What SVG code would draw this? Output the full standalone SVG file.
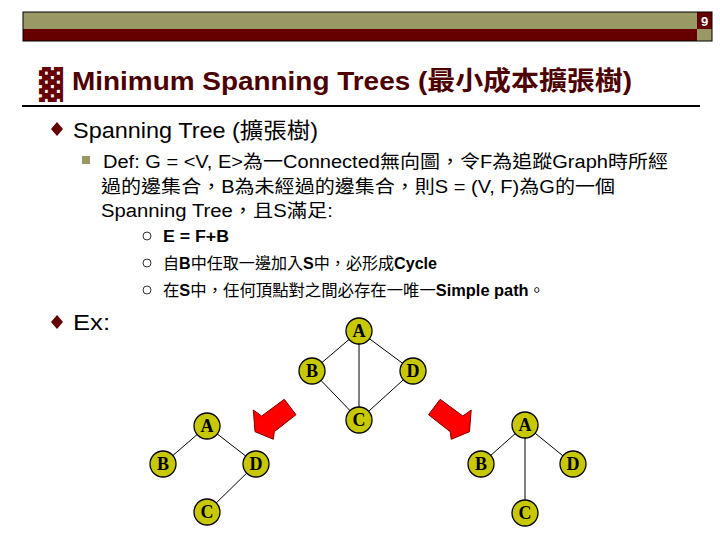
<svg xmlns="http://www.w3.org/2000/svg" width="720" height="540" viewBox="0 0 720 540">
<style>
.t{font-family:"Liberation Sans","Noto Sans CJK TC",sans-serif;fill:#000}
.b{font-weight:bold}
.n circle{fill:#c8c800;stroke:#000;stroke-width:1.3}
.n text{font-family:"Liberation Serif",serif;font-weight:bold;font-size:18px;text-anchor:middle;fill:#000}
.e line{stroke:#000;stroke-width:1}
.arr{fill:#ff0000;stroke:#800000;stroke-width:1}
</style>
<rect x="0" y="0" width="720" height="540" fill="#fff"/>
<g id="header">
<rect x="23" y="12" width="674" height="17" fill="#999966"/>
<rect x="23" y="29" width="674" height="12" fill="#660000"/>
<rect x="697" y="12" width="15" height="17" fill="#660000"/>
<rect x="697" y="29" width="15" height="12" fill="#999966"/>
<rect x="23" y="12" width="689" height="29" fill="none" stroke="#000" stroke-width="1"/>
<text x="704.5" y="26" font-family="Liberation Sans,sans-serif" font-weight="bold" font-size="13" fill="#fff" text-anchor="middle">9</text>
</g>
<g id="title">
<text x="39" y="95" font-family="DejaVu Sans,sans-serif" font-size="30" fill="#660000" textLength="24" lengthAdjust="spacingAndGlyphs">▓</text>
<text x="72" y="90" font-family="Liberation Sans,'Noto Sans CJK TC',sans-serif" font-weight="bold" font-size="26" fill="#4d0000" textLength="560" lengthAdjust="spacingAndGlyphs">Minimum Spanning Trees (最小成本擴張樹)</text>
<line x1="22" y1="106" x2="700" y2="106" stroke="#000" stroke-width="2"/>
</g>
<g id="bullets">
<path d="M57,122 L63,129 L57,136 L51,129 Z" fill="#660000"/>
<text class="t" x="73" y="138" font-size="22" textLength="245" lengthAdjust="spacingAndGlyphs">Spanning Tree (擴張樹)</text>
<rect x="82" y="156" width="8" height="8" fill="#999966"/>
<text class="t" x="103" y="168" font-size="18" textLength="565" lengthAdjust="spacingAndGlyphs">Def: G = &lt;V, E&gt;為一Connected無向圖，令F為追蹤Graph時所經</text>
<text class="t" x="101" y="193" font-size="18" textLength="514" lengthAdjust="spacingAndGlyphs">過的邊集合，B為未經過的邊集合，則S = (V, F)為G的一個</text>
<text class="t" x="101" y="217" font-size="18" textLength="232" lengthAdjust="spacingAndGlyphs">Spanning Tree，且S滿足:</text>
<circle cx="147" cy="236" r="4" fill="none" stroke="#333" stroke-width="1"/>
<text class="t b" x="163" y="242" font-size="16" textLength="66" lengthAdjust="spacingAndGlyphs">E =  F+B</text>
<circle cx="147" cy="263" r="4" fill="none" stroke="#333" stroke-width="1"/>
<text class="t" x="163" y="269" font-size="16" textLength="274" lengthAdjust="spacingAndGlyphs">自<tspan class="b">B</tspan>中任取一邊加入<tspan class="b">S</tspan>中，必形成<tspan class="b">Cycle</tspan></text>
<circle cx="147" cy="290" r="4" fill="none" stroke="#333" stroke-width="1"/>
<text class="t" x="163" y="296" font-size="16" textLength="382" lengthAdjust="spacingAndGlyphs">在<tspan class="b">S</tspan>中，任何頂點對之間必存在一唯一<tspan class="b">Simple path</tspan>。</text>
<path d="M57,315 L63,322 L57,329 L51,322 Z" fill="#660000"/>
<text class="t" x="73" y="330" font-size="22" textLength="37" lengthAdjust="spacingAndGlyphs">Ex:</text>
</g>
<g id="connectors" class="e">
<line x1="359" y1="331" x2="312" y2="371"/>
<line x1="359" y1="331" x2="359" y2="420"/>
<line x1="359" y1="331" x2="413" y2="371"/>
<line x1="312" y1="371" x2="359" y2="420"/>
<line x1="413" y1="371" x2="359" y2="420"/>
<line x1="207" y1="426" x2="163" y2="464"/>
<line x1="207" y1="426" x2="256" y2="464"/>
<line x1="256" y1="464" x2="207" y2="512"/>
<line x1="525" y1="425" x2="481" y2="464"/>
<line x1="525" y1="425" x2="525" y2="513"/>
<line x1="525" y1="425" x2="573" y2="464"/>
</g>
<g id="arrows">
<path class="arr" d="M284.3,399.3 L296,414.7 L274.3,431.7 L273.3,439.3 L255,431.7 L253.3,410 L261.7,416 Z"/>
<path class="arr" d="M440.2,399.3 L428.5,414.7 L450.2,431.7 L451.2,439.3 L469.5,431.7 L471.2,410 L462.8,416 Z"/>
</g>
<g id="g1A" class="n"><circle cx="359" cy="331" r="13"/><text x="359" y="337">A</text></g>
<g id="g1B" class="n"><circle cx="312" cy="371" r="13"/><text x="312" y="377">B</text></g>
<g id="g1D" class="n"><circle cx="413" cy="371" r="13"/><text x="413" y="377">D</text></g>
<g id="g1C" class="n"><circle cx="359" cy="420" r="13"/><text x="359" y="426">C</text></g>
<g id="g2A" class="n"><circle cx="207" cy="426" r="13"/><text x="207" y="432">A</text></g>
<g id="g2B" class="n"><circle cx="163" cy="464" r="13"/><text x="163" y="470">B</text></g>
<g id="g2D" class="n"><circle cx="256" cy="464" r="13"/><text x="256" y="470">D</text></g>
<g id="g2C" class="n"><circle cx="207" cy="512" r="13"/><text x="207" y="518">C</text></g>
<g id="g3A" class="n"><circle cx="525" cy="425" r="13"/><text x="525" y="431">A</text></g>
<g id="g3B" class="n"><circle cx="481" cy="464" r="13"/><text x="481" y="470">B</text></g>
<g id="g3D" class="n"><circle cx="573" cy="464" r="13"/><text x="573" y="470">D</text></g>
<g id="g3C" class="n"><circle cx="525" cy="513" r="13"/><text x="525" y="519">C</text></g>
</svg>
